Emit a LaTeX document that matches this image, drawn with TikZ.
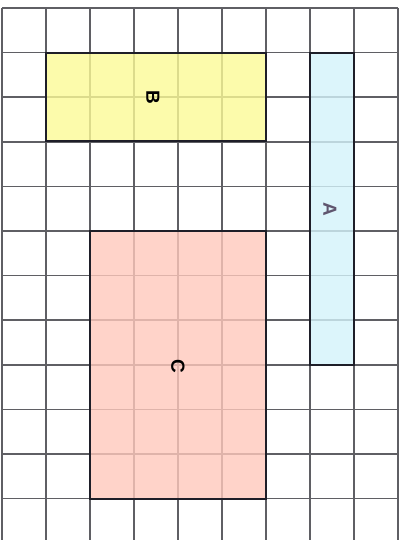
\documentclass[tikz,border=0pt]{standalone}
\usepackage{fontspec}
\setmainfont{Liberation Sans}
\definecolor{gridc}{RGB}{95,95,100}
\definecolor{yel}{RGB}{252,250,150}
\definecolor{cya}{RGB}{212,243,250}
\definecolor{pnk}{RGB}{255,200,188}
\definecolor{borderc}{RGB}{30,30,40}
\definecolor{acol}{RGB}{95,85,110}
\tikzset{
  gridline/.style={draw=gridc, line width=1.7pt},
  region/.style={draw=borderc, line width=2pt, inner sep=0pt, fill opacity=0.8, text opacity=1},
  lbl/.style={font=\bfseries\fontsize{19}{19}\selectfont}
}
\begin{document}
\begin{tikzpicture}[x=1pt,y=-1pt]
\useasboundingbox (0,0) rectangle (405,540);
\fill[white] (0,0) rectangle (405,540);
% grid
\foreach \i in {0,...,9} {
  \draw[gridline] ({2+44*\i},8) -- ({2+44*\i},545);
}
\foreach \j in {0,...,12} {
  \draw[gridline] (2,{8+44.6*\j}) -- (398,{8+44.6*\j});
}
% regions
\node[region, fill=yel, minimum width=220pt, minimum height=88pt] (B) at (156,97) {};
\node[region, fill=cya, minimum width=44pt, minimum height=312pt] (A) at (332,209) {};
\node[region, fill=pnk, minimum width=176pt, minimum height=268pt] (C) at (178,365) {};
% labels
\node[lbl] (lB) at (153,97) {\rotatebox{-90}{B}};
\node[lbl, text=acol] (lA) at (330,209) {\rotatebox{-90}{A}};
\node[lbl] (lC) at (178,366) {\rotatebox{-90}{C}};
\end{tikzpicture}
\end{document}
